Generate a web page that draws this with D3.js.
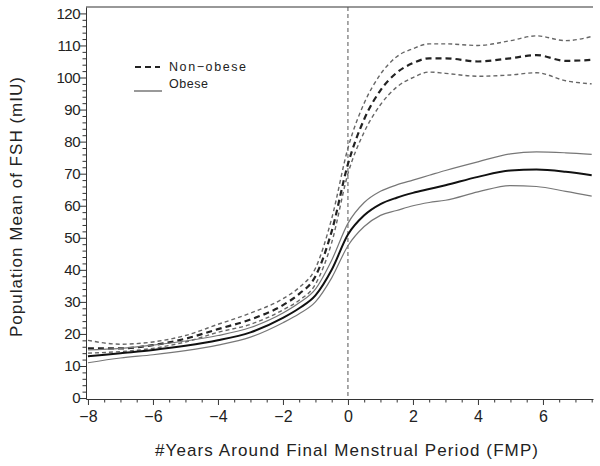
<!DOCTYPE html>
<html>
<head>
<meta charset="utf-8">
<script src="https://cdn.jsdelivr.net/npm/d3@7"></script>
<style>
  body { margin: 0; background: #fff; }
  text { font-family: 'Liberation Sans', Arial, sans-serif; fill: #222; }
</style>
</head>
<body>
<script>
'use strict'

const years = [-8, -7, -6, -5, -4, -3, -2, -1.5, -1, -0.5, 0, 0.5, 1, 1.5, 2, 2.5, 3, 4, 5, 5.8, 6.7, 7.5]

// non-obese: mean and 95% band
const nonObeseMean  = [15.5, 15.5, 16.5, 18.5, 21.5, 24.5, 29, 32.5, 38, 52, 73, 87, 96, 101.5, 104.5, 106, 106, 105, 106, 107, 105.2, 105.5]
const nonObeseUpper = [18, 16.8, 17.5, 19.5, 23, 26.5, 31, 34.5, 40.5, 56, 78, 92, 101, 106.5, 109, 110.5, 110.5, 110, 111.5, 113, 111.5, 112.8]
const nonObeseLower = [14, 14.5, 15.5, 17.5, 20.5, 23, 27.5, 30.5, 35.5, 48.5, 70, 83, 91.5, 97, 100, 101.7, 101.3, 100.4, 100.8, 101.5, 99, 98]

// obese: mean and 95% band
const obeseMean  = [13, 14, 15, 16.3, 18, 20.5, 25, 28, 32, 40, 51, 57, 60.5, 62.5, 64, 65.2, 66.4, 69, 71, 71.3, 70.6, 69.5]
const obeseUpper = [15, 15.5, 16.5, 17.8, 19.5, 22, 26.5, 29.7, 34, 43, 54.5, 61, 64.5, 66.5, 68, 69.5, 71, 73.7, 76.2, 76.8, 76.5, 76]
const obeseLower = [11, 12.5, 13.5, 14.8, 16.5, 19, 23.5, 26.3, 30, 37.5, 47.5, 53.5, 57, 58.5, 60, 61, 61.7, 64.3, 66.3, 66, 64.5, 63]

// tick labels
const xTicks = [-8, -6, -4, -2, 0, 2, 4, 6]
const yTicks = [0, 10, 20, 30, 40, 50, 60, 70, 80, 90, 100, 110, 120]

const legendLabels = ['Non\u2212obese', 'Obese']

const m = {
  width: 600,
  height: 466,
  left: 86,
  right: 593,
  top: 7,
  bottom: 399
}

const svg = d3.select('body')
  .append('svg')
  .attr('width', m.width)
  .attr('height', m.height)

const xScale = d3.scaleLinear()
  .domain([-8.06, 7.54])
  .range([m.left, m.right])

const yScale = d3.scaleLinear()
  .domain([-0.3, 122])
  .range([m.bottom, m.top])

// minor ticks every half year / every 2 mIU
const xMinor = d3.range(-8, 7.51, 0.5).filter((v) => !xTicks.includes(v))
const yMinor = d3.range(0, 121, 2).filter((v) => !yTicks.includes(v))

// x axis
svg.append('g')
  .attr('transform', 'translate(0,' + m.bottom + ')')
  .call(d3.axisBottom(xScale).tickValues(xMinor).tickSize(3.5).tickFormat(''))
  .call((g) => g.select('.domain').remove())
  .selectAll('line').attr('stroke', '#333')

svg.append('g')
  .attr('id', 'x-axis')
  .attr('transform', 'translate(0,' + m.bottom + ')')
  .call(d3.axisBottom(xScale).tickValues(xTicks).tickSize(6).tickSizeOuter(0).tickPadding(6))
  .call((g) => g.selectAll('text').style('font-size', '16px').attr('fill', '#222'))
  .call((g) => g.selectAll('line, path').attr('stroke', '#333'))

// y axis
svg.append('g')
  .attr('transform', 'translate(' + m.left + ',0)')
  .call(d3.axisLeft(yScale).tickValues(yMinor).tickSize(3.5).tickFormat(''))
  .call((g) => g.select('.domain').remove())
  .selectAll('line').attr('stroke', '#333')

svg.append('g')
  .attr('id', 'y-axis')
  .attr('transform', 'translate(' + m.left + ',0)')
  .call(d3.axisLeft(yScale).tickValues(yTicks).tickSize(6).tickSizeOuter(0).tickPadding(0))
  .call((g) => g.selectAll('text').style('font-size', '15px').attr('fill', '#222').attr('letter-spacing', '-0.5px'))
  .call((g) => g.selectAll('line, path').attr('stroke', '#333'))

// top frame line
svg.append('line')
  .attr('x1', m.left).attr('x2', m.right)
  .attr('y1', m.top).attr('y2', m.top)
  .attr('stroke', '#333')
  .attr('stroke-width', 1.2)

// reference line at the FMP
svg.append('line')
  .attr('x1', xScale(0)).attr('x2', xScale(0))
  .attr('y1', m.top).attr('y2', m.bottom)
  .attr('stroke', '#555')
  .attr('stroke-width', 1)
  .attr('stroke-dasharray', '4,3')

// draw a curve from a series
const line = d3.line()
  .x((d) => xScale(d[0]))
  .y((d) => yScale(d[1]))
  .curve(d3.curveMonotoneX)

function drawCurve(values, stroke, width, dash) {
  svg.append('path')
    .datum(years.map((yr, i) => [yr, values[i]]))
    .attr('d', line)
    .attr('fill', 'none')
    .attr('stroke', stroke)
    .attr('stroke-width', width)
    .attr('stroke-dasharray', dash)
}

drawCurve(nonObeseUpper, '#666', 1.4, '4,3')
drawCurve(nonObeseLower, '#666', 1.4, '4,3')
drawCurve(nonObeseMean, '#222', 2.2, '6,4')
drawCurve(obeseUpper, '#777', 1.2, null)
drawCurve(obeseLower, '#777', 1.2, null)
drawCurve(obeseMean, '#111', 2, null)

// legend
svg.append('line')
  .attr('x1', 135).attr('x2', 160)
  .attr('y1', 67).attr('y2', 67)
  .attr('stroke', '#222')
  .attr('stroke-width', 2)
  .attr('stroke-dasharray', '6,4')

svg.append('line')
  .attr('x1', 134).attr('x2', 162)
  .attr('y1', 91).attr('y2', 91)
  .attr('stroke', '#777')
  .attr('stroke-width', 1.5)

svg.append('text')
  .attr('x', 169).attr('y', 71)
  .style('font-size', '12.5px')
  .attr('textLength', 77)
  .attr('lengthAdjust', 'spacing')
  .text(legendLabels[0])

svg.append('text')
  .attr('x', 169).attr('y', 87.5)
  .style('font-size', '12.5px')
  .attr('textLength', 39)
  .attr('lengthAdjust', 'spacing')
  .text(legendLabels[1])

// axis titles
svg.append('text')
  .attr('x', 155).attr('y', 456)
  .style('font-size', '17px')
  .attr('textLength', 383)
  .attr('lengthAdjust', 'spacing')
  .text('#Years Around Final Menstrual Period (FMP)')

svg.append('text')
  .attr('transform', 'translate(22, 337)rotate(-90)')
  .style('font-size', '17px')
  .attr('textLength', 260)
  .attr('lengthAdjust', 'spacing')
  .text('Population Mean of FSH (mIU)')
</script>
</body>
</html>
